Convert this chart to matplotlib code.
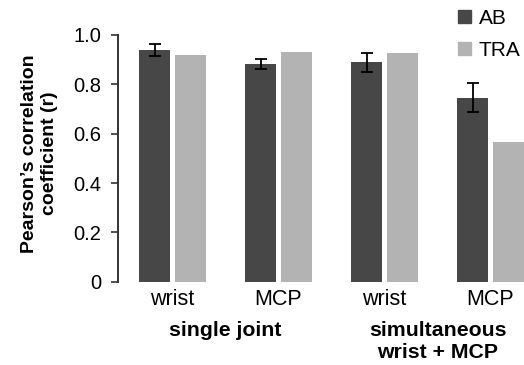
import numpy as np
import matplotlib
matplotlib.use("Agg")
import matplotlib.pyplot as plt
from matplotlib.patches import Patch

plt.rcParams["font.family"] = ["Liberation Sans", "DejaVu Sans"]

# ----------------------------------------------------
# DATA
# ----------------------------------------------------
joint_labels = ["wrist", "MCP", "wrist", "MCP"]
group_labels = ["single joint", "simultaneous\nwrist + MCP"]
ab_values = [0.939, 0.882, 0.889, 0.746]
ab_errors = [0.024, 0.021, 0.037, 0.060]
tra_values = [0.918, 0.932, 0.928, 0.565]
series_names = ["AB", "TRA"]

dark = "#474747"
light = "#b3b3b3"

fig = plt.figure(figsize=(5.24, 3.65), dpi=100)
ax = fig.add_axes([118 / 524, 1 - 281.7 / 365, 406 / 524, (281.7 - 35) / 365])

x = np.arange(len(joint_labels))
width = 0.288
offset = 0.1675

ax.bar(x - offset, ab_values, width, color=dark, zorder=2)
ax.bar(x + offset, tra_values, width, color=light, zorder=2)
ax.errorbar(x - offset, ab_values, yerr=ab_errors, fmt="none", ecolor="black",
            elinewidth=1.3, capsize=4.5, capthick=1.3, zorder=3)

ax.set_xlim(-0.514, 3.316)
ax.set_ylim(0, 1.0)
ax.set_yticks([0, 0.2, 0.4, 0.6, 0.8, 1.0])
ax.set_yticklabels(["0", "0.2", "0.4", "0.6", "0.8", "1.0"], fontsize=14.5)
ax.set_xticks(x)
ax.set_xticklabels(joint_labels, fontsize=15.5)
ax.tick_params(axis="x", length=0, pad=5)
ax.tick_params(axis="y", direction="out", length=5, width=1.2, pad=7, color="#333333")

for side in ["top", "right", "bottom"]:
    ax.spines[side].set_visible(False)
ax.spines["left"].set_linewidth(1.4)
ax.spines["left"].set_color("#333333")

ax.set_ylabel("Pearson\u2019s correlation\ncoefficient (r)", fontsize=14,
              fontweight="bold", linespacing=1.2)
ax.yaxis.set_label_coords(-0.148, 0.52)

# group labels under the joint labels
trans = ax.get_xaxis_transform()
ax.text(0.5, -0.196, group_labels[0], transform=trans, ha="center", va="center",
        fontsize=15.3, fontweight="bold")
ax.text(2.5, -0.158, group_labels[1], transform=trans, ha="center", va="top",
        fontsize=15.3, fontweight="bold", linespacing=1.25)

handles = [Patch(color=dark), Patch(color=light)]
fig.legend(handles, series_names, loc="upper left", bbox_to_anchor=(458 / 524, 1 - 9 / 365),
           frameon=False, fontsize=15, handlelength=0.6, handleheight=0.6,
           handletextpad=0.4, labelspacing=0.6, borderaxespad=0, borderpad=0)

fig.savefig("out.png", dpi=100)
